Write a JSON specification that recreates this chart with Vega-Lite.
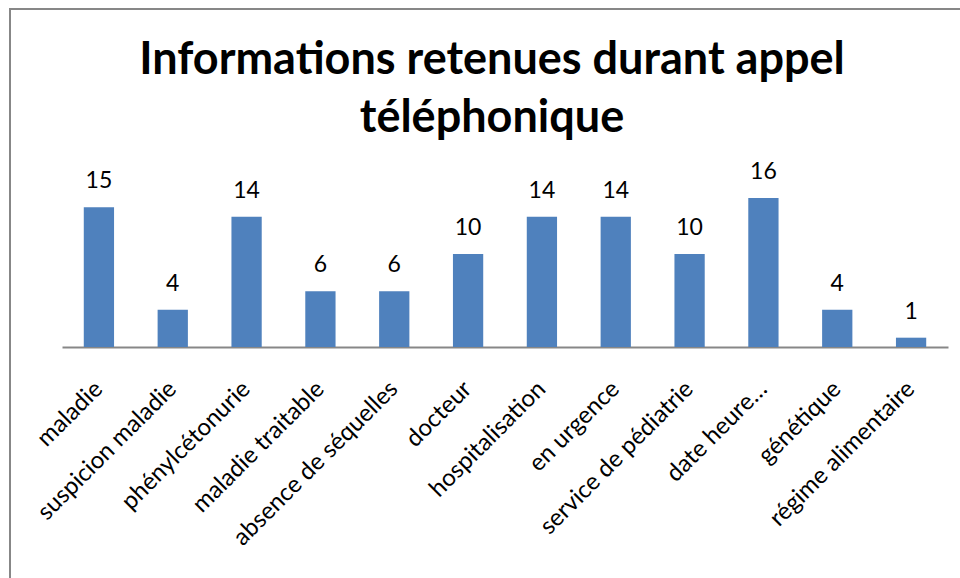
{
  "$schema": "https://vega.github.io/schema/vega-lite/v6.json",
  "autosize": "none",
  "width": 956,
  "height": 575,
  "padding": {"left": 10, "top": 9, "right": 0, "bottom": 0},
  "background": "white",
  "config": {"view": {"stroke": "#878787", "strokeWidth": 2}, "font": "Lato"},
  "title": {
    "text": ["Informations retenues durant appel", "téléphonique"],
    "font": "Lato",
    "fontWeight": "bold",
    "fontSize": 45,
    "lineHeight": 58,
    "anchor": "start",
    "frame": "group",
    "dx": 482,
    "align": "center",
    "baseline": "top",
    "orient": "top",
    "offset": -132,
    "color": "black"
  },
  "data": {
    "values": [
      {"cat": "maladie", "value": 15},
      {"cat": "suspicion maladie", "value": 4},
      {"cat": "phénylcétonurie", "value": 14},
      {"cat": "maladie traitable", "value": 6},
      {"cat": "absence de séquelles", "value": 6},
      {"cat": "docteur", "value": 10},
      {"cat": "hospitalisation", "value": 14},
      {"cat": "en urgence", "value": 14},
      {"cat": "service de pédiatrie", "value": 10},
      {"cat": "date heure…", "value": 16},
      {"cat": "génétique", "value": 4},
      {"cat": "régime alimentaire", "value": 1}
    ]
  },
  "encoding": {
    "x": {
      "field": "cat",
      "type": "nominal",
      "sort": null,
      "scale": {"range": [52, 938], "paddingInner": 0.59, "paddingOuter": 0.295},
      "axis": {
        "orient": "bottom",
        "offset": -237,
        "title": null,
        "labelAngle": -45,
        "labelAlign": "right",
        "labelBaseline": "middle",
        "labelFontSize": 24,
        "labelFont": "Lato",
        "labelColor": "black",
        "ticks": false,
        "labelPadding": 38,
        "domainColor": "#878787",
        "domainWidth": 2,
        "labelLimit": 0,
        "labelOverlap": false,
        "grid": false
      }
    },
    "y": {
      "field": "value",
      "type": "quantitative",
      "scale": {"domain": [0, 16], "range": [338, 189]},
      "axis": null
    }
  },
  "layer": [
    {"mark": {"type": "bar", "color": "#4F81BD"}},
    {
      "mark": {"type": "text", "font": "Lato", "fontSize": 23, "baseline": "alphabetic", "dy": -19, "color": "black"},
      "encoding": {"text": {"field": "value", "type": "quantitative"}}
    }
  ]
}
